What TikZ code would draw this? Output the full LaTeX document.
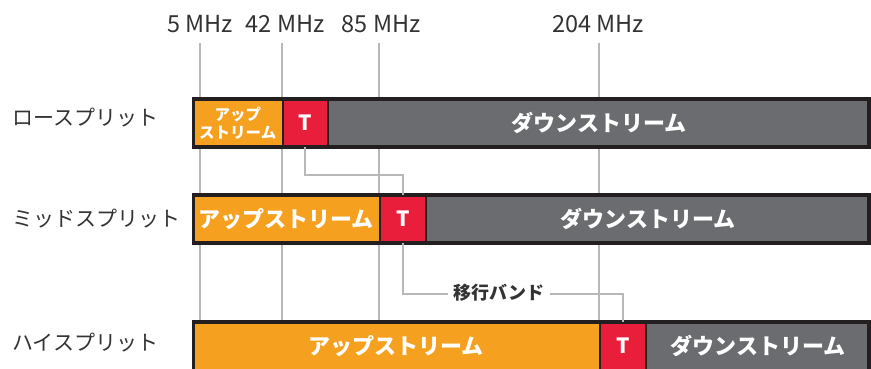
\documentclass[tikz,border=0pt]{standalone}
\usepackage{fontspec}
\setmainfont{Noto Sans CJK JP}
\definecolor{cup}{HTML}{F6A01F}
\definecolor{ct}{HTML}{E81E3B}
\definecolor{cdown}{HTML}{6A6C6F}
\definecolor{cborder}{HTML}{231F20}
\definecolor{cline}{HTML}{B7B8BA}
\definecolor{ctext}{HTML}{333333}
\tikzset{
  seg/.style={draw=cborder, line width=1.5pt, inner sep=0pt, minimum height=50pt, anchor=west, text=white, font=\bfseries\fontsize{22}{26}\selectfont},
  upseg/.style={seg, fill=cup},
  tseg/.style={seg, fill=ct, font=\bfseries\fontsize{21}{24}\selectfont},
  downseg/.style={seg, fill=cdown},
  frame/.style={draw=cborder, line width=3pt},
  vline/.style={draw=cline, line width=2pt},
  conn/.style={draw=cline, line width=2pt},
  freq/.style={text=ctext, font=\fontsize{23.5}{27}\selectfont, inner sep=0pt},
  rowlab/.style={text=ctext, font=\fontsize{21}{24}\selectfont, anchor=west, inner sep=0pt},
  bandlab/.style={text=ctext, font=\bfseries\fontsize{18}{21}\selectfont, fill=white, inner xsep=6pt, inner ysep=2pt}
}
\begin{document}
\begin{tikzpicture}[x=1pt,y=-1pt]
\useasboundingbox (0,0) rectangle (871,369);
\begin{scope}
\clip (0,0) rectangle (871,369);
% frequency labels
\node[freq] (f5) at (200,24) {5 MHz};
\node[freq] (f42) at (285,24) {42 MHz};
\node[freq] (f85) at (381,24) {85 MHz};
\node[freq] (f204) at (598,24) {204 MHz};
% vertical lines
\draw[vline] (200,43) -- (200,372);
\draw[vline] (282,43) -- (282,372);
\draw[vline] (379,43) -- (379,372);
\draw[vline] (599,43) -- (599,372);
% row labels
\node[rowlab] (rlo) at (12,118) {ロースプリット};
\node[rowlab] (rmid) at (12,219) {ミッドスプリット};
\node[rowlab] (rhi) at (12,343) {ハイスプリット};
% low split
\node[upseg, minimum width=90pt, align=center, font=\bfseries\fontsize{15.5}{19}\selectfont] (loup) at (192,123) {アップ\\[-1pt]ストリーム};
\node[tseg, minimum width=45pt] (lot) at (282,123) {T};
\node[downseg, minimum width=543pt] (lodown) at (327,123) {ダウンストリーム};
\draw[frame] (193.5,99.5) rectangle (868.5,146.5);
% mid split
\node[upseg, minimum width=187pt] (midup) at (192,219) {アップストリーム};
\node[tseg, minimum width=46pt] (midt) at (379,219) {T};
\node[downseg, minimum width=445pt] (middown) at (425,219) {ダウンストリーム};
\draw[frame] (193.5,195.5) rectangle (868.5,242.5);
% high split
\node[upseg, minimum width=407pt] (hiup) at (192,346) {アップストリーム};
\node[tseg, minimum width=46pt] (hit) at (599,346) {T};
\node[downseg, minimum width=225pt] (hidown) at (645,346) {ダウンストリーム};
\draw[frame] (193.5,322.5) rectangle (868.5,375);
% transition band connectors
\draw[conn] ([yshift=1.5pt]lot.south) |- (midt.north |- 0,175) -- ([yshift=-1.5pt]midt.north);
\draw[conn] ([yshift=1.5pt]midt.south) |- (hit.north |- 0,294) -- ([yshift=-1.5pt]hit.north);
\node[bandlab] (band) at (499,293) {移行バンド};
\end{scope}
\end{tikzpicture}
\end{document}
